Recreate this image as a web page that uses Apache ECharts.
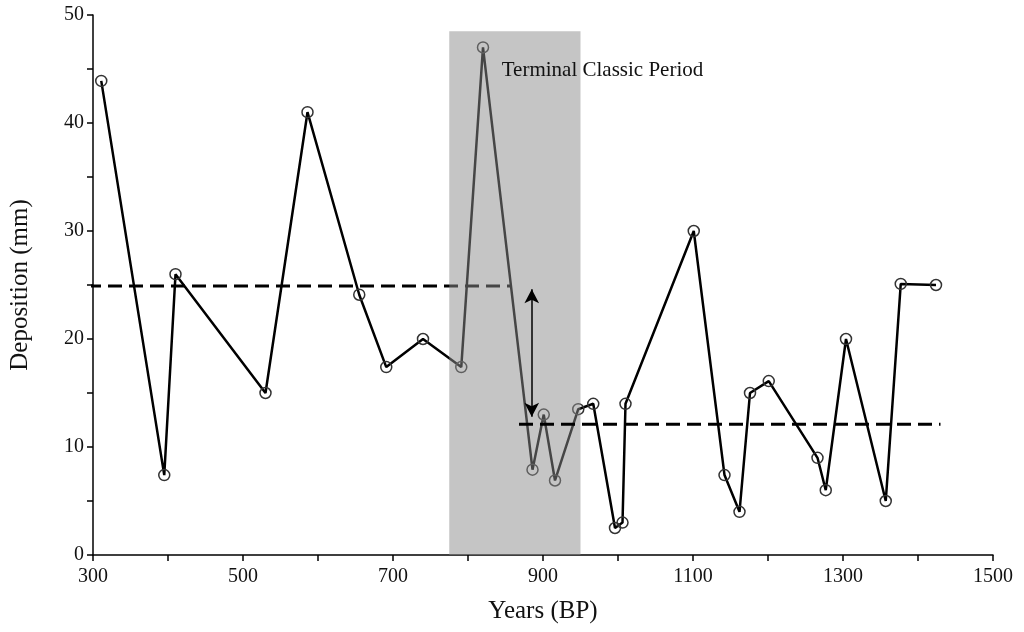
<!DOCTYPE html>
<html>
<head>
<meta charset="utf-8">
<script src="https://cdn.jsdelivr.net/npm/echarts@6/dist/echarts.min.js"></script>
<style>html,body{margin:0;padding:0;background:#fff}#c{width:1024px;height:632px}</style>
</head>
<body>
<div id="c"></div>
<script>
// Data
const years = [311, 395, 410, 530, 586, 655, 691, 740, 791, 820, 886, 901, 916, 947, 967, 996, 1006, 1010, 1101, 1142, 1162, 1176, 1201, 1266, 1277, 1304, 1357, 1377, 1424];
const deposition = [43.9, 7.4, 26, 15, 41, 24.1, 17.4, 20, 17.4, 47, 7.9, 13, 6.9, 13.5, 14, 2.5, 3, 14, 30, 7.4, 4, 15, 16.1, 9, 6, 20, 5, 25.1, 25];
const meanBefore = { from: 292, to: 856, value: 24.9 };
const meanAfter = { from: 868, to: 1430, value: 12.1 };
const arrowSpan = { year: 885, top: 24.6, bottom: 12.8 };
const periodBand = { from: 775, to: 950, top: 48.5 };
const periodLabel = { text: 'Terminal Classic Period', year: 845, value: 44.9 };
const xTicks = { min: 300, max: 1500, step: 100, labelStep: 200 };
const yTicks = { min: 0, max: 50, step: 5, labelStep: 10 };

const serif = "'Liberation Serif', 'Times New Roman', 'DejaVu Serif', serif";
const chart = echarts.init(document.getElementById('c'));
chart.setOption({
  animation: false,
  backgroundColor: '#fff',
  grid: { left: 93, right: 31, top: 15, bottom: 77 },
  xAxis: {
    type: 'value', min: xTicks.min, max: xTicks.max, interval: xTicks.step,
    name: 'Years (BP)', nameLocation: 'middle', nameGap: 44,
    nameTextStyle: { fontFamily: serif, fontSize: 25, color: '#111' },
    axisLine: { lineStyle: { color: '#000', width: 1.5 } },
    axisTick: { show: true, length: 6, lineStyle: { color: '#000', width: 1.5 } },
    axisLabel: { fontFamily: serif, fontSize: 20, color: '#111', margin: 12,
      formatter: v => ((v - xTicks.min) % xTicks.labelStep === 0 ? String(v) : '') },
    splitLine: { show: false }
  },
  yAxis: {
    type: 'value', min: yTicks.min, max: yTicks.max, interval: yTicks.step,
    name: 'Deposition (mm)', nameLocation: 'middle', nameGap: 60,
    nameTextStyle: { fontFamily: serif, fontSize: 25, color: '#111' },
    axisLine: { show: true, lineStyle: { color: '#000', width: 1.5 } },
    axisTick: { show: true, length: 6, lineStyle: { color: '#000', width: 1.5 } },
    axisLabel: { fontFamily: serif, fontSize: 20, color: '#111', margin: 9,
      formatter: v => (v % yTicks.labelStep === 0 ? String(v) : '') },
    splitLine: { show: false }
  },
  series: [
    {
      type: 'line', z: 2, clip: false, symbol: 'none',
      data: [[meanBefore.from, meanBefore.value], [meanBefore.to, meanBefore.value]],
      lineStyle: { color: '#000', width: 3, type: [14, 7] }
    },
    {
      type: 'line', z: 3, zlevel: 0, data: years.map((y, i) => [y, deposition[i]]),
      symbol: 'circle', symbolSize: 11, showAllSymbol: true,
      itemStyle: { color: 'rgba(255,255,255,0)', borderColor: '#333', borderWidth: 1.5 },
      lineStyle: { color: '#000', width: 2.5 }
    },
    {
      type: 'line', z: 5, data: [], silent: true,
      markArea: {
        silent: true, z: 5,
        itemStyle: { color: 'rgba(140,140,140,0.5)' },
        data: [[{ coord: [periodBand.from, 0] }, { coord: [periodBand.to, periodBand.top] }]]
      }
    },
    {
      type: 'line', z: 6, symbol: 'none',
      data: [[meanAfter.from, meanAfter.value], [meanAfter.to, meanAfter.value]],
      lineStyle: { color: '#000', width: 3, type: [14, 7] }
    },
    {
      type: 'line', z: 7, data: [], silent: true,
      markLine: {
        silent: true, symbol: ['arrow', 'arrow'], symbolSize: [11, 14],
        lineStyle: { color: '#000', width: 1.5, type: 'solid' },
        label: { show: false },
        data: [[{ coord: [arrowSpan.year, arrowSpan.top] }, { coord: [arrowSpan.year, arrowSpan.bottom] }]]
      },
      markPoint: {
        silent: true, symbol: 'circle', symbolSize: 0,
        label: { show: true, position: 'right', distance: 0, formatter: periodLabel.text,
          fontFamily: serif, fontSize: 21, color: '#111' },
        data: [{ coord: [periodLabel.year, periodLabel.value] }]
      }
    }
  ]
});
</script>
</body>
</html>
